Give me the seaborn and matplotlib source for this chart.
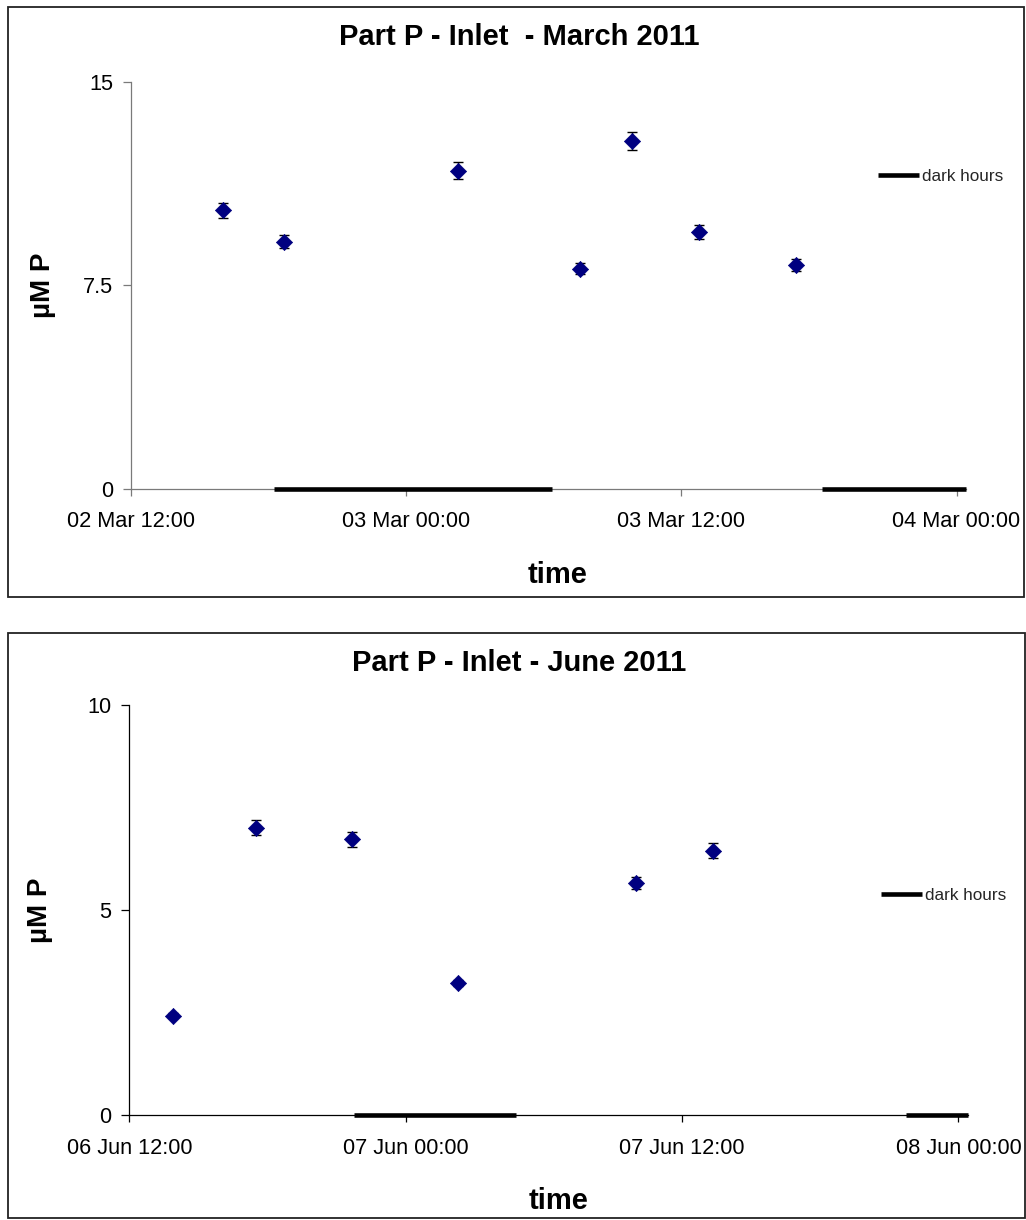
import matplotlib
matplotlib.use("Agg")
import numpy as np
import pandas as pd
import seaborn as sns
import matplotlib.pyplot as plt
import matplotlib.dates as mdates
from matplotlib.patches import Rectangle

sns.set_theme(style="white")
plt.rcParams["font.family"] = ["Liberation Sans", "DejaVu Sans"]

# ---- March 2011 ----
mar_times = ["2011-03-02 16:00", "2011-03-02 18:40", "2011-03-03 02:15",
             "2011-03-03 07:35", "2011-03-03 09:50", "2011-03-03 12:45",
             "2011-03-03 17:00"]
mar_values = [10.26, 9.11, 11.72, 8.11, 12.81, 9.47, 8.25]
mar_errors = [0.28, 0.25, 0.32, 0.20, 0.32, 0.26, 0.23]
mar_dark_start = ["2011-03-02 18:13", "2011-03-03 18:08"]
mar_dark_end = ["2011-03-03 06:22", "2011-03-04 06:20"]
mar_xlim = ["2011-03-02 12:00", "2011-03-04 00:24"]
mar_xticks = ["2011-03-02 12:00", "2011-03-03 00:00", "2011-03-03 12:00", "2011-03-04 00:00"]
mar_yticks = [0, 7.5, 15]
mar_yticklabels = ["0", "7.5", "15"]

# ---- June 2011 ----
jun_times = ["2011-06-06 13:55", "2011-06-06 17:30", "2011-06-06 21:40",
             "2011-06-07 02:15", "2011-06-07 10:00", "2011-06-07 13:20"]
jun_values = [2.43, 7.00, 6.72, 3.22, 5.65, 6.44]
jun_errors = [0.05, 0.18, 0.18, 0.08, 0.15, 0.18]
jun_dark_start = ["2011-06-06 21:46", "2011-06-07 21:44"]
jun_dark_end = ["2011-06-07 04:48", "2011-06-08 04:48"]
jun_xlim = ["2011-06-06 12:00", "2011-06-08 00:24"]
jun_xticks = ["2011-06-06 12:00", "2011-06-07 00:00", "2011-06-07 12:00", "2011-06-08 00:00"]
jun_yticks = [0, 5, 10]
jun_yticklabels = ["0", "5", "10"]

W, H = 1026, 1220
fig = plt.figure(figsize=(W / 100, H / 100), dpi=100)


def fx(px):
    return px / W


def fy(py):
    return 1 - py / H


def panel(rect, box, title, title_y, times, values, errors, dstart, dend,
          xlim, xticks, yticks, yticklabels, axis_color, legend_xy,
          xlabel_y, ylabel_y):
    # frame round the panel
    fig.add_artist(Rectangle((fx(box[0]), fy(box[3])), fx(box[2] - box[0]),
                             (box[3] - box[1]) / H, transform=fig.transFigure,
                             fill=False, lw=1.3, ec="#222222"))
    ax = fig.add_axes(rect)
    df = pd.DataFrame({"time": pd.to_datetime(times), "value": values, "err": errors})
    t0, t1 = pd.to_datetime(xlim)

    # dark-hours bars along the zero line
    for i, (s, e) in enumerate(zip(pd.to_datetime(dstart), pd.to_datetime(dend))):
        e = min(e, t1)
        ax.plot([s, e], [0, 0], color="black", lw=3.3, solid_capstyle="butt",
                clip_on=False, zorder=4, label="dark hours" if i == 0 else None)

    ax.errorbar(df["time"], df["value"], yerr=df["err"], fmt="none",
                ecolor="black", elinewidth=1.0, capsize=3.6, capthick=1.0, zorder=2)
    sns.scatterplot(data=df, x="time", y="value", marker="D", s=68,
                    color="#000080", edgecolor="#000080", linewidth=0.5,
                    ax=ax, zorder=3)

    ax.set_xlim(t0, t1)
    ax.set_ylim(yticks[0], yticks[-1])
    ax.set_xticks(pd.to_datetime(xticks))
    ax.xaxis.set_major_formatter(mdates.DateFormatter("%d %b %H:%M"))
    ax.set_yticks(yticks)
    ax.set_yticklabels(yticklabels)

    for side in ("top", "right"):
        ax.spines[side].set_visible(False)
    for side in ("left", "bottom"):
        ax.spines[side].set_color(axis_color)
        ax.spines[side].set_linewidth(0.9)
    ax.tick_params(axis="x", bottom=True, direction="out", length=5, width=0.9,
                   color=axis_color, labelsize=15.7, labelcolor="black", pad=11)
    ax.tick_params(axis="y", left=True, direction="out", length=6, width=0.9,
                   color=axis_color, labelsize=15.7, labelcolor="black", pad=7)

    ax.set_xlabel("time", fontsize=21, fontweight="bold", color="black")
    ax.xaxis.label.set_va("baseline")
    ax.xaxis.set_label_coords(0.5116, xlabel_y)
    ax.set_ylabel("µM P", fontsize=20, fontweight="bold", color="black")
    ax.yaxis.label.set_va("center")
    ax.yaxis.set_label_coords(-0.106, ylabel_y)

    fig.text(fx(519), fy(title_y), title, ha="center", va="baseline",
             fontsize=21, fontweight="bold", color="black")

    ax.legend(loc="center left", bbox_to_anchor=legend_xy,
              bbox_transform=fig.transFigure, frameon=False, fontsize=12.3,
              handlelength=2.4, handletextpad=0.2, borderpad=0, borderaxespad=0)
    return ax


panel([fx(131), fy(489), fx(965.7 - 131), (489 - 81.6) / H],
      (8.3, 6.7, 1024, 597.3), "Part P - Inlet  - March 2011", 45,
      mar_times, mar_values, mar_errors, mar_dark_start, mar_dark_end,
      mar_xlim, mar_xticks, mar_yticks, mar_yticklabels, "#7a7a7a",
      (fx(878), fy(176.7)), -0.2307, 0.5)

panel([fx(129.3), fy(1115.3), fx(967.7 - 129.3), (1115.3 - 704.7) / H],
      (8.3, 633.3, 1025, 1218), "Part P - Inlet - June 2011", 671,
      jun_times, jun_values, jun_errors, jun_dark_start, jun_dark_end,
      jun_xlim, jun_xticks, jun_yticks, jun_yticklabels, "black",
      (fx(881), fy(895.7)), -0.228, 0.5)

fig.savefig("out.png", dpi=100, facecolor="white")
